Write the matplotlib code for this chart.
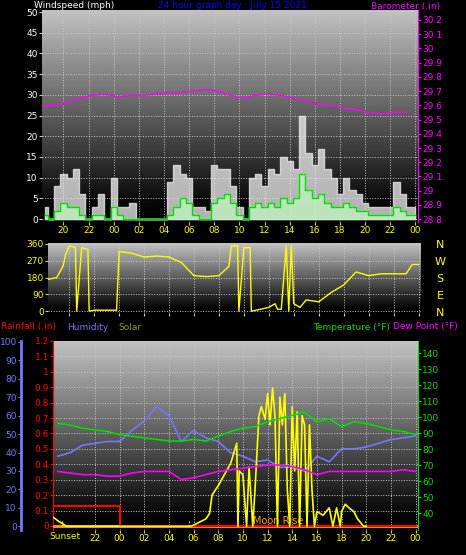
import numpy as np
import matplotlib
matplotlib.use("Agg")
import matplotlib.pyplot as plt

# hours since midnight of previous day (24 = 00 on the 15th, 48 = 00 on the 16th)
wind_t = np.arange(18.5, 48.01, 0.5)
gust = [3, 0, 8, 11, 10, 12, 6, 0, 3, 6, 0, 10, 3, 3, 4, 0, 0, 0, 0, 0,
        9, 13, 11, 10, 3, 3, 2, 13, 12, 12, 8, 3, 0, 10, 11, 8, 12, 11, 15, 14,
        12, 25, 16, 13, 17, 12, 10, 6, 10, 7, 6, 4, 3, 3, 3, 3, 9, 6, 3, 3]
avg = [1, 0, 2, 4, 3, 3, 1, 0, 1, 1, 0, 3, 1, 0, 0, 0, 0, 0, 0, 0,
       1, 3, 5, 4, 1, 0, 0, 4, 5, 6, 4, 1, 0, 3, 4, 3, 4, 3, 5, 4,
       5, 11, 7, 5, 6, 4, 3, 3, 4, 3, 2, 2, 1, 1, 1, 1, 3, 2, 1, 1]

baro_t = np.arange(18.3, 48.01, 1.0)
baro = [29.6, 29.6, 29.62, 29.65, 29.67, 29.68, 29.66, 29.67, 29.67, 29.68,
        29.69, 29.69, 29.7, 29.71, 29.7, 29.67, 29.65, 29.67, 29.68, 29.67,
        29.65, 29.63, 29.61, 29.6, 29.58, 29.57, 29.55, 29.54, 29.55, 29.55]

dir_t = [18.3, 19, 19.5, 19.7, 20, 20.5, 20.6, 21, 21.5, 21.6, 22, 23, 23.8, 24, 25, 26, 27, 28,
         29, 30, 31, 32, 32.8, 33, 33.5, 33.6, 34, 34.5, 34.6, 35, 36, 36.5, 36.7, 37, 37.4,
         37.6, 37.8, 38, 38.5, 39, 40, 41, 42, 43, 44, 45, 46, 47, 47.5, 48]
wdir = [170, 180, 240, 300, 350, 340, 0, 340, 330, 0, 5, 5, 5, 320, 310, 290, 295, 290,
        260, 190, 185, 190, 240, 350, 350, 0, 340, 340, 0, 5, 20, 40, 10, 10, 350,
        0, 350, 40, 20, 60, 50, 100, 140, 210, 190, 200, 200, 200, 250, 250]

hour_t = np.arange(19, 48.01, 1.0)
temp = [96, 95, 93, 92, 91, 89, 88, 87, 86, 85, 85, 86, 85, 88, 91, 93, 94, 97, 99, 101,
        103, 97, 99, 94, 97, 96, 94, 92, 91, 89]
humid = [38, 40, 44, 45, 46, 46, 52, 57, 65, 60, 46, 52, 48, 46, 40, 38, 35, 36, 32, 32,
         30, 38, 35, 42, 42, 43, 45, 47, 48, 49]
dew = [66, 65, 64, 64, 63, 63, 65, 66, 66, 66, 61, 62, 64, 66, 67, 68, 69, 70, 70, 69,
       67, 64, 66, 66, 66, 66, 66, 66, 67, 66]

solar_t = [18.6, 19, 19.7, 29.8, 31, 31.3, 31.5, 32, 33, 33.5, 33.6, 33.7, 34, 34.3, 34.5, 34.8,
           35, 35.3, 35.5, 35.8, 36, 36.2, 36.4, 36.6, 36.8, 37, 37.2, 37.4, 37.6, 37.8,
           38, 38.2, 38.4, 38.6, 38.8, 39, 39.2, 39.4, 39.6, 39.8, 40, 40.5, 41, 41.3, 41.6, 41.9,
           42, 42.3, 42.6, 43, 43.3, 43.8, 44]
solar = [5, 3, 0, 0, 4, 7, 17, 22, 34, 45, 0, 30, 28, 0, 32, 0,
         22, 60, 65, 58, 72, 55, 75, 60, 0, 70, 55, 72, 20, 0,
         65, 30, 62, 0, 60, 55, 0, 55, 20, 0, 8, 6, 10, 0, 10, 0,
         8, 12, 10, 8, 4, 0, 0]

rain_t = [18.6, 24, 24, 48]
rain = [0.13, 0.13, 0, 0]

tick_hours = np.arange(20, 48.1, 2)
tick_labels = ["%02d" % (h % 24) for h in tick_hours]

W, H = 466, 555
fig = plt.figure(figsize=(W / 100, H / 100), dpi=100, facecolor="black")


def box(x0, y0, x1, y1):
    return fig.add_axes([x0 / W, 1 - y1 / H, (x1 - x0) / W, (y1 - y0) / H])


# light at the top, black at the bottom
grad = np.linspace(1, 0, 256).reshape(-1, 1)


def style(ax):
    ax.imshow(grad, extent=[0, 1, 0, 1], transform=ax.transAxes, cmap="gray",
              vmin=0.05, vmax=1.3, aspect="auto", zorder=0)
    ax.set_facecolor("black")
    for s in ax.spines.values():
        s.set_visible(False)
    ax.grid(True, color="#c8c8c8", ls=":", lw=0.7, zorder=1)
    ax.tick_params(colors="#cccccc", labelsize=6.5, length=2, pad=1)


# ---- wind ----
ax1 = box(42, 10, 418, 222)
style(ax1)
ax1.fill_between(wind_t, gust, step="mid", color="#f0f0f0", alpha=0.75, zorder=2)
ax1.fill_between(wind_t, avg, step="mid", color="#c0f0c0", alpha=0.8, zorder=3)
ax1.step(wind_t, avg, where="mid", color="#00dd00", lw=1, zorder=4)
ax1.set_xlim(18.3, 48.2)
ax1.set_ylim(-0.7, 50.5)
ax1.set_yticks(range(0, 51, 5))
ax1.set_xticks(tick_hours)
ax1.set_xticklabels(tick_labels, color="yellow")
ax1.tick_params(axis="y", labelcolor="white")
ax1b = ax1.twinx()
ax1b.plot(baro_t, baro, color="#ff00ff", lw=1, zorder=5)
ax1b.set_ylim(28.78, 30.27)
ax1b.set_yticks(np.round(np.arange(28.8, 30.21, 0.1), 1))
ax1b.set_yticklabels(["%g" % v for v in np.round(np.arange(28.8, 30.21, 0.1), 1)])
ax1b.tick_params(colors="#ff00ff", labelsize=6.5, length=2, pad=1)
for s in ax1b.spines.values():
    s.set_visible(False)
ax1b.spines["right"].set_visible(True)
ax1b.spines["right"].set_color("#ff00ff")

fig.text(34 / W, 1 - 6 / H, "Windspeed (mph)", color="white", fontsize=6.5, va="center")
fig.text(232 / W, 1 - 6 / H, "24 hour graph day : July 15 2021", color="blue", ha="center",
         fontsize=6.5, va="center")
fig.text(440 / W, 1 - 6 / H, "Barometer (.in)", color="#ff00ff", ha="right", fontsize=6.5,
         va="center")

# ---- wind direction ----
ax2 = box(48, 243, 421, 313)
style(ax2)
ax2.plot(dir_t, wdir, color="yellow", lw=1, zorder=3)
ax2.set_xlim(18.3, 48.2)
ax2.set_ylim(-10, 365)
ax2.set_yticks([0, 90, 180, 270, 360])
ax2.tick_params(axis="y", labelcolor="yellow")
ax2.set_xticks(tick_hours)
ax2.set_xticklabels([])
for i, c in enumerate("NWSEN"):
    fig.text(440 / W, 1 - (245 + i * 17) / H, c, color="yellow", fontsize=8, ha="center",
             va="center")

fig.text(1 / W, 1 - 327 / H, "Rainfall (.in)", color="red", fontsize=6.5, va="center")
fig.text(67 / W, 1 - 327 / H, "Humidity", color="#7777ff", fontsize=6.5, va="center")
fig.text(118 / W, 1 - 327 / H, "Solar", color="#999900", fontsize=6.5, va="center")
fig.text(313 / W, 1 - 327 / H, "Temperature (\u00b0F)", color="#00dd00", fontsize=6.5,
         va="center")
fig.text(393 / W, 1 - 327 / H, "Dew Point (\u00b0F)", color="#ff00ff", fontsize=6.5,
         va="center")

# ---- bottom panel ----
ax3 = box(53, 341, 418, 530)
style(ax3)
ax3.set_xlim(18.6, 48.2)
ax3.set_ylim(-0.026, 1.2)
ax3.set_yticks(np.round(np.arange(0, 1.21, 0.1), 1))
ax3.set_yticklabels(["%g" % v for v in np.round(np.arange(0, 1.21, 0.1), 1)])
ax3.tick_params(axis="y", labelcolor="red", colors="red")
ax3.spines["left"].set_visible(True)
ax3.spines["left"].set_color("red")
ax3.set_xticks(tick_hours[1:])
ax3.set_xticklabels(tick_labels[1:], color="yellow")
ax3.axhline(0, color="orange", lw=2, zorder=6)
ax3.plot(rain_t, rain, color="red", lw=1.5, zorder=7)
for x in [19.3, 29.6, 43.9]:
    ax3.plot([x, x], [0, 0.04], color="yellow", ls=":", lw=1, zorder=7)
ax3.text(36.9, 0.0, "Moon Rise", color="orange", fontsize=7, ha="center", va="bottom", zorder=8)
ax3.text(19.6, -0.07, "Sunset", color="yellow", fontsize=6.5, ha="center", va="center")

# humidity axis (outer left)
axh = ax3.twinx()
axh.yaxis.set_ticks_position("left")
axh.yaxis.set_label_position("left")
axh.spines["left"].set_position(("outward", 23))
for s in axh.spines.values():
    s.set_visible(False)
axh.spines["left"].set_visible(True)
axh.spines["left"].set_color("#7777ff")
axh.spines["left"].set_linewidth(2)
axh.set_ylim(-2, 100.5)
axh.set_yticks(range(0, 101, 10))
axh.tick_params(colors="#7777ff", labelsize=6.5, length=2, pad=1)
axh.plot(hour_t, humid, color="#7777ff", lw=1.2, zorder=4)
axh.plot(solar_t, solar, color="yellow", lw=1.2, zorder=5)

# temperature axis (right)
axt = ax3.twinx()
for s in axt.spines.values():
    s.set_visible(False)
axt.spines["right"].set_visible(True)
axt.spines["right"].set_color("#00dd00")
axt.set_ylim(29.4, 147.5)
axt.set_yticks(range(40, 141, 10))
axt.tick_params(colors="#00dd00", labelsize=6.5, length=2, pad=1)
axt.plot(hour_t, temp, color="#00dd00", lw=1.2, zorder=4)
axt.plot(hour_t, dew, color="#ff00ff", lw=1.2, zorder=4)

fig.savefig("out.png", dpi=100, facecolor="black")
